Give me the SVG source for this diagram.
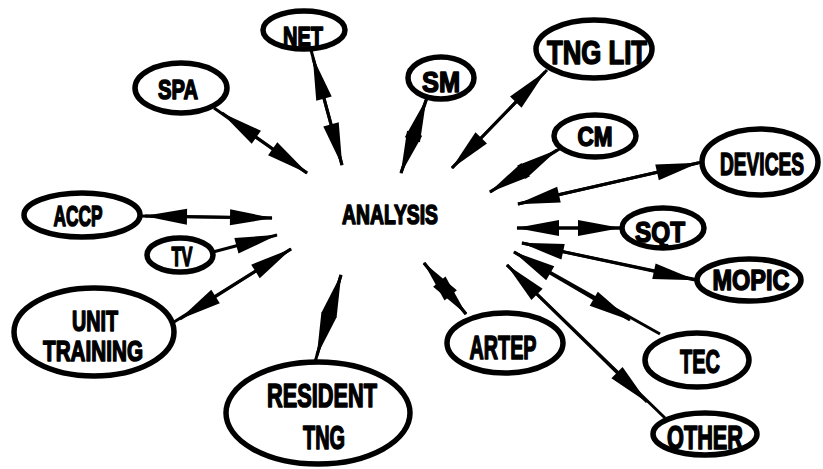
<svg xmlns="http://www.w3.org/2000/svg" width="823" height="469" viewBox="0 0 823 469">
<style>
.n ellipse{fill:#fff;stroke:#000;stroke-width:5.5}
text{font-family:"Liberation Sans",Arial,sans-serif;font-weight:bold;fill:#000;stroke:#000;stroke-width:1.6;stroke-linejoin:round;text-anchor:middle}
.c path{fill:none;stroke:#000;stroke-width:3}
.c path.a{marker-start:url(#ah);marker-end:url(#ah)}
.c path.s{marker-end:url(#ah)}
</style>
<defs>
<marker id="ah" markerUnits="userSpaceOnUse" orient="auto-start-reverse" markerWidth="1" markerHeight="1" refX="0" refY="0" overflow="visible">
<path d="M1,0 L-42,-8 L-42,8 z" fill="#000" stroke="none"/>
</marker>
</defs>
<rect width="823" height="469" fill="#fff"/>
<g id="connectors" class="c">
<path d="M311,50 L342,165"/><path class="a" d="M313,58 L342,165"/>
<path d="M427,98 L401,173"/><path class="a" d="M426,100 L401,173"/>
<path d="M214,108 L307,173"/><path class="a" d="M222,113 L307,173"/>
<path d="M547,70 L452,168"/><path class="a" d="M545,72 L452,168"/>
<path d="M561,148 L490,192"/><path class="a" d="M557,150 L490,192"/>
<path d="M702,162 L518,204"/><path class="a" d="M698,163 L518,204"/>
<path d="M140,216 L272,218"/><path class="a" d="M145,216 L272,218"/>
<path class="s" d="M213,252 L277,235"/>
<path d="M174,322 L291,249"/><path class="a" d="M180,319 L291,249"/>
<path d="M315,362 L341,275"/><path class="a" d="M317,355 L341,275"/>
<path d="M466,314 L424,263"/><path class="a" d="M466,314 L424,263"/>
<path d="M622,228 L517,228"/><path class="a" d="M620,228 L517,228"/>
<path d="M698,280 L522,243"/><path class="a" d="M695,280 L522,243"/>
<path d="M660,334 L514,252"/><path class="a" d="M630,320 L514,252"/>
<path d="M665,418 L507,265"/><path class="a" d="M647,402 L507,265"/>
</g>
<g id="analysis"><text x="390" y="224" font-size="27" textLength="96" lengthAdjust="spacingAndGlyphs">ANALYSIS</text></g>
<g id="net" class="n"><ellipse cx="304" cy="30" rx="41" ry="19"/><text x="303" y="46" font-size="28" textLength="40" lengthAdjust="spacingAndGlyphs">NET</text></g>
<g id="spa" class="n"><ellipse cx="181" cy="88" rx="46" ry="25"/><text x="178" y="99" font-size="28" textLength="40" lengthAdjust="spacingAndGlyphs">SPA</text></g>
<g id="sm" class="n"><ellipse cx="441" cy="78" rx="33" ry="21"/><text x="441" y="92" font-size="30" textLength="38" lengthAdjust="spacingAndGlyphs">SM</text></g>
<g id="tnglit" class="n"><ellipse cx="594" cy="49" rx="58" ry="29"/><text x="597" y="64" font-size="34" textLength="100" lengthAdjust="spacingAndGlyphs">TNG  LIT</text></g>
<g id="cm" class="n"><ellipse cx="595" cy="136" rx="41" ry="21"/><text x="595" y="146" font-size="27" textLength="35" lengthAdjust="spacingAndGlyphs">CM</text></g>
<g id="devices" class="n"><ellipse cx="760" cy="162" rx="58" ry="33"/><text transform="translate(762,175) scale(0.6,1)" x="0" y="0" font-size="32">DEVICES</text></g>
<g id="accp" class="n"><ellipse cx="82" cy="215" rx="58" ry="22"/><text x="78" y="226" font-size="29" textLength="49" lengthAdjust="spacingAndGlyphs">ACCP</text></g>
<g id="tv" class="n"><ellipse cx="180" cy="255" rx="33" ry="17"/><text x="182" y="266" font-size="28" textLength="21" lengthAdjust="spacingAndGlyphs">TV</text></g>
<g id="unittraining" class="n"><ellipse cx="94" cy="332" rx="80" ry="44"/><text x="95" y="331" font-size="30" textLength="46" lengthAdjust="spacingAndGlyphs">UNIT</text><text x="93" y="361" font-size="30" textLength="100" lengthAdjust="spacingAndGlyphs">TRAINING</text></g>
<g id="residenttng" class="n"><ellipse cx="318" cy="413" rx="92" ry="51"/><text x="322" y="407" font-size="34" textLength="110" lengthAdjust="spacingAndGlyphs">RESIDENT</text><text x="324" y="449" font-size="34" textLength="42" lengthAdjust="spacingAndGlyphs">TNG</text></g>
<g id="artep" class="n"><ellipse cx="505" cy="343" rx="58" ry="30"/><text x="503" y="359" font-size="34" textLength="67" lengthAdjust="spacingAndGlyphs">ARTEP</text></g>
<g id="sqt" class="n"><ellipse cx="663" cy="228" rx="41" ry="20"/><text x="660" y="242" font-size="30" textLength="50" lengthAdjust="spacingAndGlyphs">SQT</text></g>
<g id="mopic" class="n"><ellipse cx="749" cy="280" rx="52" ry="21"/><text x="751" y="290" font-size="30" textLength="77" lengthAdjust="spacingAndGlyphs">MOPIC</text></g>
<g id="tec" class="n"><ellipse cx="697" cy="360" rx="52" ry="27"/><text x="700" y="373" font-size="34" textLength="40" lengthAdjust="spacingAndGlyphs">TEC</text></g>
<g id="other" class="n"><ellipse cx="705" cy="434" rx="52" ry="21"/><text x="705" y="449" font-size="34" textLength="76" lengthAdjust="spacingAndGlyphs">OTHER</text></g>
</svg>
